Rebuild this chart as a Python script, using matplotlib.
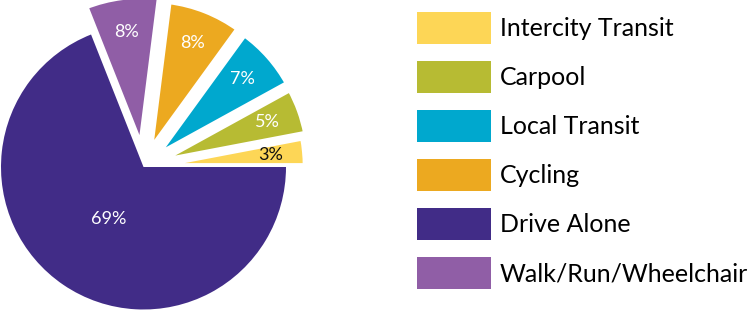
import matplotlib
matplotlib.use("Agg")
import matplotlib.pyplot as plt
from matplotlib.patches import Patch
import numpy as np

# ---- data ----
categories = ["Intercity Transit", "Carpool", "Local Transit", "Cycling",
              "Walk/Run/Wheelchair", "Drive Alone"]
shares = [3, 5, 7, 8, 8, 69]
colors = ["#FDD656", "#B7BB33", "#00A8CE", "#ECA920", "#905EA6", "#412C87"]
label_colors = ["#111111", "white", "white", "white", "white", "white"]
legend_order = ["Intercity Transit", "Carpool", "Local Transit", "Cycling",
                "Drive Alone", "Walk/Run/Wheelchair"]

FONT = ["Lato", "DejaVu Sans"]
W, H = 750, 311
fig = plt.figure(figsize=(W / 100, H / 100), dpi=100)
ax = fig.add_axes([0, 0, 1, 1])

cx, cy = 143.5, H - 167
r_main = 142.5
r_small = 150
explodes = [12, 16, 17, 18, 21, 0]

wedges, texts, autotexts = ax.pie(
    shares, colors=colors, startangle=0, counterclock=True,
    center=(cx, cy), radius=r_main, explode=explodes,
    autopct=lambda p: f"{p:.0f}%", pctdistance=0.8,
    wedgeprops=dict(linewidth=4, edgecolor="white"),
    textprops=dict(fontsize=13, family=FONT))

for i, (w, t) in enumerate(zip(wedges, autotexts)):
    t.set_color(label_colors[i])
    th = np.deg2rad(0.5 * (w.theta1 + w.theta2))
    if i < len(wedges) - 1:
        w.set_radius(r_small)
        dist = explodes[i] + 0.77 * r_small
    else:
        dist = 0.44 * r_main
        w.set_linewidth(0)
        w.set_zorder(w.get_zorder() + 1)
    t.set_position((cx + dist * np.cos(th), cy + dist * np.sin(th)))
    t.set_zorder(5)

ax.set_xlim(0, W)
ax.set_ylim(0, H)
ax.set_aspect("equal")
ax.axis("off")

fs_pt = 18
fs_px = fs_pt * 100 / 72
swatch_px = 32
hh = (swatch_px / fs_px - 0.245) / 0.65
handles = [Patch(facecolor=colors[categories.index(c)], edgecolor="none")
           for c in legend_order]
ax.legend(handles, legend_order, loc="upper left",
          bbox_to_anchor=(417 / W, 1 - 12 / H), bbox_transform=fig.transFigure,
          frameon=False, borderpad=0, borderaxespad=0,
          handlelength=74 / fs_px, handleheight=hh,
          handletextpad=9 / fs_px, labelspacing=17 / fs_px,
          prop=dict(family=FONT, size=fs_pt))

fig.savefig("out.png", dpi=100)
